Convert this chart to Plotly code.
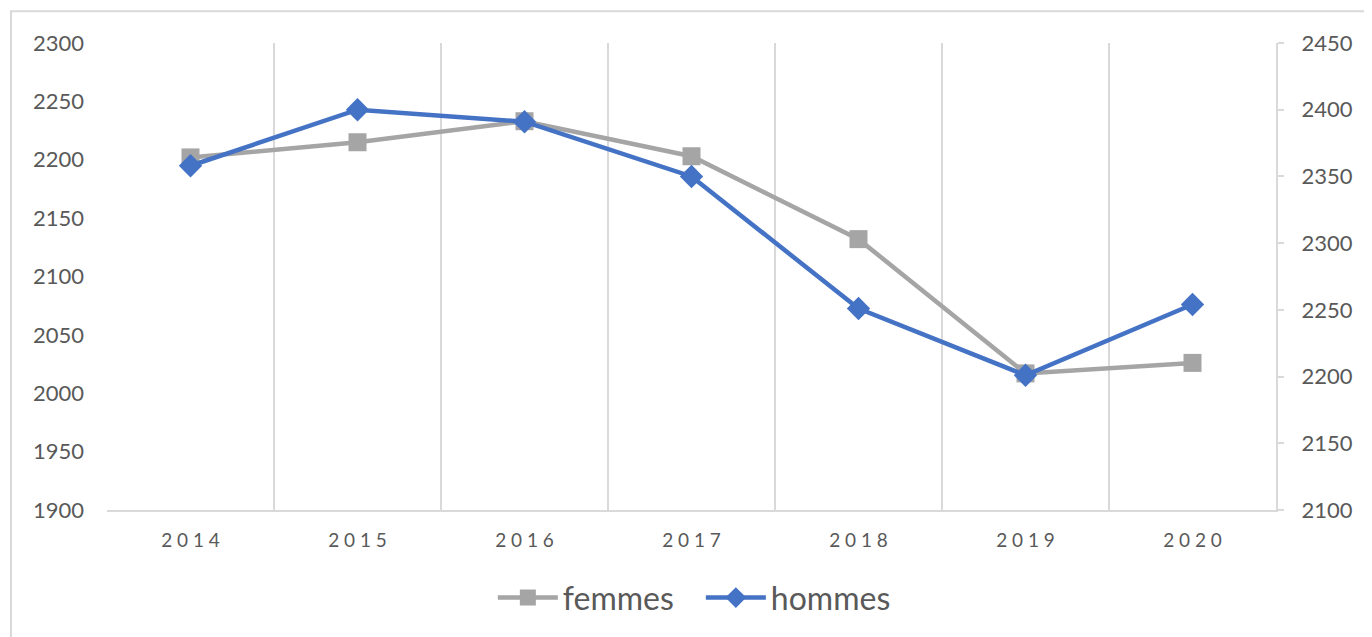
import plotly.graph_objects as go

years = ["2014", "2015", "2016", "2017", "2018", "2019", "2020"]
femmes = [2202, 2215, 2233, 2203, 2132, 2017, 2026]
hommes = [2358, 2400, 2391, 2350, 2251, 2201, 2254]
left_ticks = [1900, 1950, 2000, 2050, 2100, 2150, 2200, 2250, 2300]
right_ticks = [2100, 2150, 2200, 2250, 2300, 2350, 2400, 2450]

GRAY = "#A5A5A5"
BLUE = "#4472C4"
TXT = "#595959"
GRID = "#D9D9D9"
FONT = "Lato, 'Open Sans', sans-serif"

spaced = [" ".join(list(y)) for y in years]

fig = go.Figure()
fig.add_trace(go.Scatter(
    x=years, y=femmes, name="femmes", mode="lines+markers",
    line=dict(color=GRAY, width=4.5),
    marker=dict(symbol="square", size=18, color=GRAY),
    yaxis="y"))
fig.add_trace(go.Scatter(
    x=years, y=hommes, name="hommes", mode="lines+markers",
    line=dict(color=BLUE, width=4.5),
    marker=dict(symbol="diamond", size=18, color=BLUE),
    yaxis="y2"))

# page body has an 8px margin; compensate so plot area lands at x 107-1276, y 43-512
W, H = 1364, 629
L, R, T, B = 99, 96, 35, 125
PW = W - L - R
PH = H - T - B

fig.update_layout(
    width=W, height=H,
    margin=dict(l=L, r=R, t=T, b=B),
    paper_bgcolor="white", plot_bgcolor="white",
    font=dict(family=FONT, color=TXT, size=22),
    showlegend=True,
    legend=dict(orientation="h", x=0.508, xanchor="center", y=-0.188, yanchor="middle",
                font=dict(size=32, color=TXT), itemwidth=60, traceorder="normal",
                entrywidth=133),
    xaxis=dict(type="category", categoryorder="array", categoryarray=years,
               tickmode="array", tickvals=years, ticktext=spaced,
               range=[-0.5, 6.5], tickson="boundaries", showgrid=True,
               gridcolor=GRID, gridwidth=2, showline=True, linecolor=GRID, linewidth=2,
               ticks="", tickfont=dict(size=19, color=TXT), zeroline=False,
               ticklabelstandoff=12),
    yaxis=dict(range=[1900, 2300], tickvals=left_ticks, showgrid=False, zeroline=False,
               showline=False, ticks="", tickfont=dict(size=22, color=TXT),
               ticklabelstandoff=22),
    yaxis2=dict(range=[2100, 2450], tickvals=right_ticks, overlaying="y", side="right",
                showgrid=False, zeroline=False, showline=True, linecolor=GRID, linewidth=2,
                ticks="outside", ticklen=6, tickcolor=GRID, tickwidth=2,
                tickfont=dict(size=22, color=TXT), ticklabelstandoff=13),
)

fig.add_shape(type="rect", xref="paper", yref="paper",
              x0=(11 - 107) / PW, x1=(1370 - 107) / PW,
              y0=(512 - 660) / PH, y1=(512 - 11) / PH,
              line=dict(color=GRID, width=2), layer="below")

fig.write_html("out.html")
